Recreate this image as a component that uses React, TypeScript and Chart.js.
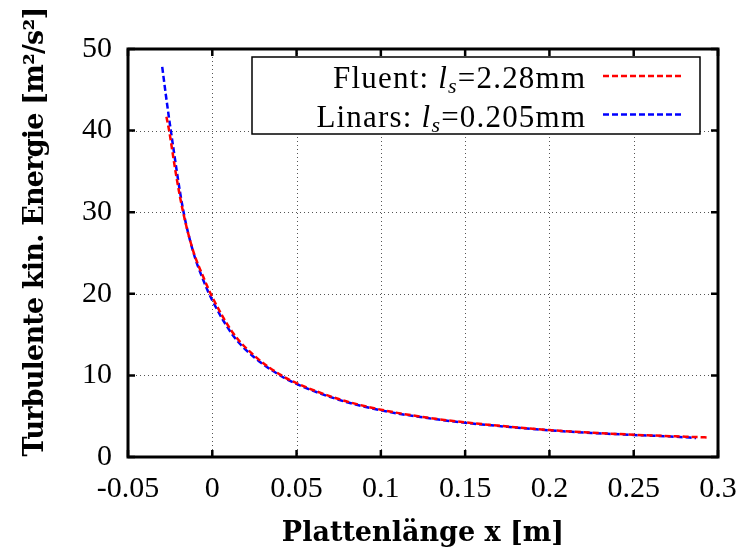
import React, { useEffect, useRef } from "react";
import { Chart, registerables } from "chart.js";

Chart.register(...registerables);

// ---- data ----
const fluentX = [-0.0272, -0.0256, -0.0215, -0.0173, -0.0114, -0.005, 0.0, 0.0123, 0.025, 0.041, 0.05, 0.075, 0.1, 0.125, 0.15, 0.175, 0.2, 0.225, 0.25, 0.275, 0.2933];
const fluentY = [41.7, 40.0, 34.6, 30.0, 25.3, 21.9, 19.6, 15.2, 12.4, 10.0, 9.05, 7.1, 5.8, 4.9, 4.25, 3.74, 3.3, 2.98, 2.73, 2.53, 2.4];

const linarsX = [-0.0297, -0.0275, -0.0246, -0.0173, -0.0114, -0.005, 0.0, 0.0123, 0.025, 0.041, 0.05, 0.075, 0.1, 0.125, 0.15, 0.175, 0.2, 0.225, 0.25, 0.275, 0.287];
const linarsY = [47.8, 44.3, 40.0, 30.3, 25.2, 21.5, 19.2, 14.9, 12.2, 9.9, 8.95, 7.02, 5.72, 4.85, 4.2, 3.7, 3.27, 2.95, 2.7, 2.48, 2.33];

const xTicks = [-0.05, 0, 0.05, 0.1, 0.15, 0.2, 0.25, 0.3];
const xTickLabels = ["-0.05", "0", "0.05", "0.1", "0.15", "0.2", "0.25", "0.3"];
const yTicks = [0, 10, 20, 30, 40, 50];
const yTickLabels = ["0", "10", "20", "30", "40", "50"];

const seriesNames = ["Fluent", "Linars"];
const seriesLs = ["2.28mm", "0.205mm"];
const seriesColors = ["#ff0000", "#0000ff"];

const xTitle = "Plattenlänge x [m]";
const yTitle = "Turbulente kin. Energie [m²/s²]";

const SERIF = "'Liberation Serif', 'Times New Roman', serif";
const TITLE_FONT = "bold 27px 'DejaVu Serif', serif";

const decorPlugin = {
  id: "decor",
  beforeDatasetsDraw(chart: any) {
    const { ctx, chartArea } = chart;
    const xs = chart.scales.x;
    const ys = chart.scales.y;
    ctx.save();
    ctx.strokeStyle = "#555";
    ctx.lineWidth = 1;
    ctx.setLineDash([1, 3]);
    xTicks.forEach((v) => {
      const px = Math.round(xs.getPixelForValue(v)) + 0.5;
      ctx.beginPath();
      ctx.moveTo(px, chartArea.top);
      ctx.lineTo(px, chartArea.bottom);
      ctx.stroke();
    });
    yTicks.forEach((v) => {
      const py = Math.round(ys.getPixelForValue(v)) + 0.5;
      ctx.beginPath();
      ctx.moveTo(chartArea.left, py);
      ctx.lineTo(chartArea.right, py);
      ctx.stroke();
    });
    ctx.restore();
  },
  afterDatasetsDraw(chart: any) {
    const { ctx, chartArea } = chart;
    const xs = chart.scales.x;
    const ys = chart.scales.y;
    const { left, right, top, bottom } = chartArea;
    ctx.save();
    ctx.setLineDash([]);
    ctx.strokeStyle = "#000";
    // inward ticks
    ctx.lineWidth = 2.5;
    const tl = 7;
    xTicks.forEach((v) => {
      const px = xs.getPixelForValue(v);
      ctx.beginPath();
      ctx.moveTo(px, bottom);
      ctx.lineTo(px, bottom - tl);
      ctx.moveTo(px, top);
      ctx.lineTo(px, top + tl);
      ctx.stroke();
    });
    yTicks.forEach((v) => {
      const py = ys.getPixelForValue(v);
      ctx.beginPath();
      ctx.moveTo(left, py);
      ctx.lineTo(left + tl, py);
      ctx.moveTo(right, py);
      ctx.lineTo(right - tl, py);
      ctx.stroke();
    });
    // frame
    ctx.lineWidth = 3;
    ctx.strokeRect(left, top, right - left, bottom - top);

    // legend
    const bx = 252, by = 57, bw = 448, bh = 77;
    ctx.fillStyle = "#fff";
    ctx.fillRect(bx, by, bw, bh);
    ctx.lineWidth = 1.5;
    ctx.strokeStyle = "#000";
    ctx.strokeRect(bx, by, bw, bh);

    const textRight = 585;
    const baselines = [88, 126.5];
    const lineYs = [76, 114.5];
    const normal = `31px ${SERIF}`;
    const ital = `italic 31px ${SERIF}`;
    const subF = `italic 22px ${SERIF}`;
    const ls = 1.2;
    (ctx as any).letterSpacing = ls + "px";
    seriesNames.forEach((name, i) => {
      const parts = [
        { t: name + ": ", f: normal, dy: 0 },
        { t: "l", f: ital, dy: 0 },
        { t: "s", f: subF, dy: 5 },
        { t: "=" + seriesLs[i], f: normal, dy: 0 },
      ];
      let total = 0;
      parts.forEach((p) => {
        ctx.font = p.f;
        total += ctx.measureText(p.t).width;
      });
      let x = textRight - total + ls;
      ctx.fillStyle = "#000";
      ctx.textAlign = "left";
      ctx.textBaseline = "alphabetic";
      parts.forEach((p) => {
        ctx.font = p.f;
        ctx.fillText(p.t, x, baselines[i] + p.dy);
        x += ctx.measureText(p.t).width;
      });
      ctx.strokeStyle = seriesColors[i];
      ctx.lineWidth = 2.5;
      ctx.setLineDash([6, 3]);
      ctx.beginPath();
      ctx.moveTo(603, lineYs[i]);
      ctx.lineTo(682, lineYs[i]);
      ctx.stroke();
      ctx.setLineDash([]);
    });
    (ctx as any).letterSpacing = "0px";

    // axis titles
    ctx.fillStyle = "#000";
    ctx.font = TITLE_FONT;
    ctx.textAlign = "center";
    ctx.textBaseline = "alphabetic";
    ctx.fillText(xTitle, (left + right) / 2, 541);
    ctx.save();
    (ctx as any).letterSpacing = "-0.8px";
    ctx.translate(43, 232);
    ctx.rotate(-Math.PI / 2);
    ctx.fillText(yTitle, 0, 0);
    (ctx as any).letterSpacing = "0px";
    ctx.restore();

    ctx.restore();
  },
};

export default function App() {
  const canvasRef = useRef<HTMLCanvasElement | null>(null);

  useEffect(() => {
    if (!canvasRef.current) return;
    const chart = new Chart(canvasRef.current, {
      type: "line",
      data: {
        datasets: [
          {
            label: seriesNames[0],
            data: fluentX.map((x, i) => ({ x, y: fluentY[i] })),
            borderColor: seriesColors[0],
            backgroundColor: seriesColors[0],
            borderWidth: 2.5,
            borderDash: [6, 3],
            pointRadius: 0,
            cubicInterpolationMode: "monotone",
            fill: false,
          },
          {
            label: seriesNames[1],
            data: linarsX.map((x, i) => ({ x, y: linarsY[i] })),
            borderColor: seriesColors[1],
            backgroundColor: seriesColors[1],
            borderWidth: 2.5,
            borderDash: [6, 3],
            pointRadius: 0,
            cubicInterpolationMode: "monotone",
            fill: false,
          },
        ],
      },
      options: {
        animation: false,
        responsive: false,
        maintainAspectRatio: false,
        layout: { padding: { top: 49, right: 25, left: 0, bottom: 0 } },
        plugins: {
          legend: { display: false },
          tooltip: { enabled: false },
          title: { display: false },
        },
        scales: {
          x: {
            type: "linear",
            min: -0.05,
            max: 0.3,
            afterBuildTicks: (scale: any) => {
              scale.ticks = xTicks.map((v) => ({ value: v }));
            },
            afterFit: (scale: any) => {
              scale.height = 95;
              scale.paddingLeft = 0;
              scale.paddingRight = 0;
            },
            grid: { display: false, drawTicks: false },
            border: { display: false },
            ticks: {
              autoSkip: false,
              maxRotation: 0,
              padding: 14,
              color: "#000",
              font: { family: SERIF, size: 30 },
              callback: (_v: any, i: number) => xTickLabels[i],
            },
          },
          y: {
            type: "linear",
            min: 0,
            max: 50,
            afterBuildTicks: (scale: any) => {
              scale.ticks = yTicks.map((v) => ({ value: v }));
            },
            afterFit: (scale: any) => {
              scale.width = 128;
              scale.paddingTop = 0;
              scale.paddingBottom = 0;
            },
            grid: { display: false, drawTicks: false },
            border: { display: false },
            ticks: {
              autoSkip: false,
              padding: 16,
              color: "#000",
              font: { family: SERIF, size: 30 },
              callback: (_v: any, i: number) => yTickLabels[i],
            },
          },
        },
      },
      plugins: [decorPlugin],
    } as any);
    return () => chart.destroy();
  }, []);

  return (
    <div style={{ position: "absolute", left: 0, top: 0, width: 743, height: 552, background: "#fff" }}>
      <canvas ref={canvasRef} width={743} height={552} style={{ width: 743, height: 552, display: "block" }} />
    </div>
  );
}
